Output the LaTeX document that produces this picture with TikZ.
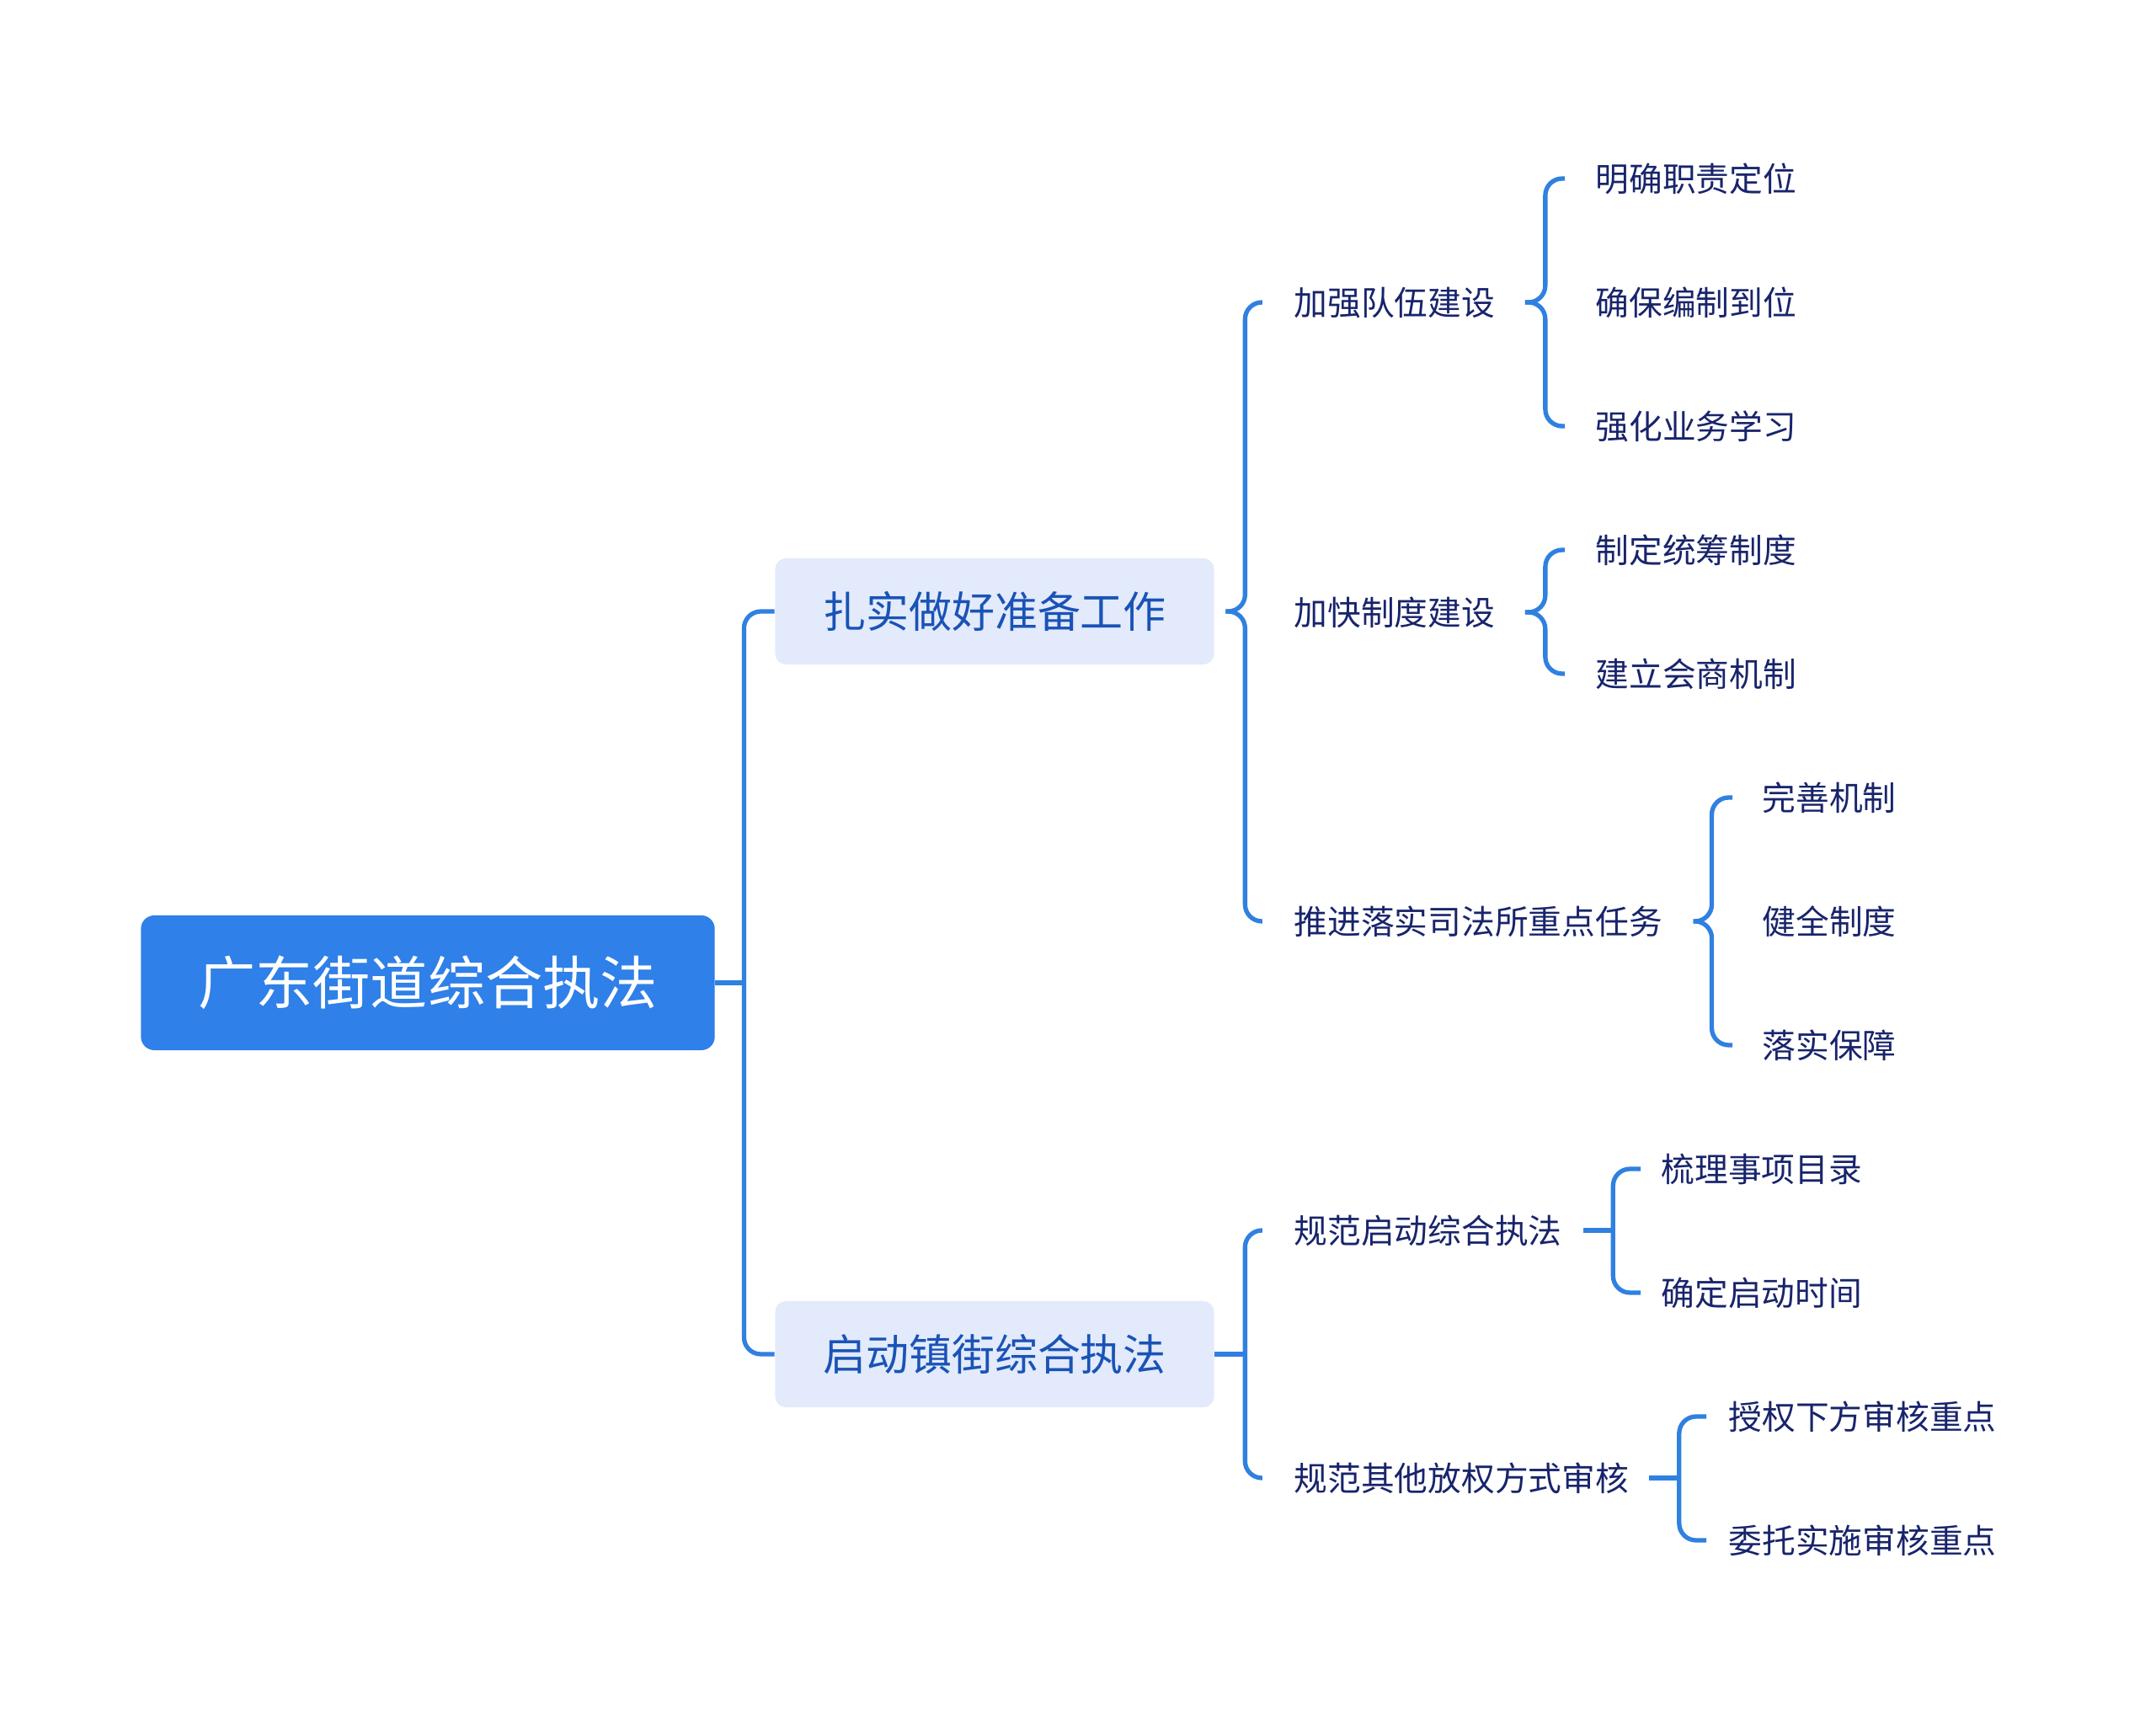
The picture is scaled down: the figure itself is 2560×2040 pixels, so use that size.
\documentclass[tikz,border=0pt]{standalone}
\usepackage{fontspec}
\setmainfont{Noto Sans CJK SC}
\usepackage{tikz}

\definecolor{linkblue}{HTML}{3080E0}
\definecolor{rootblue}{HTML}{2F80E8}
\definecolor{topicbg}{HTML}{E2EAFB}
\definecolor{topicfg}{HTML}{1A53B6}
\definecolor{leaffg}{HTML}{18246B}

\begin{document}
\begin{tikzpicture}[x=0.01cm, y=-0.01cm,
  root/.style={fill=rootblue, rounded corners=0.16cm, minimum width=6.81cm, minimum height=1.6cm, inner sep=0pt, text=white, font=\fontsize{19.4}{22}\selectfont, text height=16.1pt, text depth=1.4pt},
  topic/.style={fill=topicbg, rounded corners=0.13cm, minimum width=5.21cm, minimum height=1.26cm, inner sep=0pt, text=topicfg, font=\fontsize{14.5}{17}\selectfont, text height=12pt, text depth=1pt},
  leaf/.style={anchor=west, inner sep=0pt, text=leaffg, font=\fontsize{11.3}{13}\selectfont, text height=9.4pt, text depth=0.8pt},
  link/.style={draw=linkblue, line width=1.5pt, rounded corners=0.2cm}]
  \useasboundingbox (0,0) rectangle (2560,2040);

  \node[root]  (main)   at (508,1167) {广东街道综合执法};
  \node[topic] (prep)   at (1181,726) {扎实做好准备工作};
  \node[topic] (launch) at (1181,1608) {启动镇街综合执法};

  \node[leaf] (team)  at (1536,359)  {加强队伍建设};
  \node[leaf] (rules) at (1536,727)  {加快制度建设};
  \node[leaf] (tasks) at (1536,1094) {推进落实司法所重点任务};
  \node[leaf] (start) at (1536,1461) {规范启动综合执法};
  \node[leaf] (other) at (1536,1755) {规范其他放权方式审核};

  \node[leaf] (duty)    at (1894,212)  {明确职责定位};
  \node[leaf] (staff)   at (1894,359)  {确保编制到位};
  \node[leaf] (study)   at (1894,506)  {强化业务学习};
  \node[leaf] (plan)    at (1894,653)  {制定统筹制度};
  \node[leaf] (consult) at (1894,800)  {建立会商机制};
  \node[leaf] (mech)    at (2092,947)  {完善机制};
  \node[leaf] (sys)     at (2092,1094) {健全制度};
  \node[leaf] (guard)   at (2092,1241) {落实保障};
  \node[leaf] (list)    at (1972,1388) {梳理事项目录};
  \node[leaf] (time)    at (1972,1535) {确定启动时间};
  \node[leaf] (auth)    at (2052,1682) {授权下方审核重点};
  \node[leaf] (entrust) at (2052,1829) {委托实施审核重点};

  % root -> topics
  \draw[link] (main.east) -- ++(34,0) coordinate (mainfork);
  \draw[link] (mainfork) |- (prep.west);
  \draw[link] (mainfork) |- (launch.west);

  % braces
  \coordinate (prepfork) at ([xshift=0.13cm]prep.east);
  \draw[link] (prepfork) -- ++(23,0) |- ([xshift=-0.37cm]team.west);
  \draw[link] (prepfork) -- ++(23,0) |- ([xshift=-0.37cm]tasks.west);

  \coordinate (teamfork) at ([xshift=0.35cm]team.east);
  \draw[link] (teamfork) -- ++(24,0) |- ([xshift=-0.36cm]duty.west);
  \draw[link] (teamfork) -- ++(24,0) |- ([xshift=-0.36cm]study.west);

  \coordinate (rulesfork) at ([xshift=0.35cm]rules.east);
  \draw[link] (rulesfork) -- ++(24,0) |- ([xshift=-0.36cm]plan.west);
  \draw[link] (rulesfork) -- ++(24,0) |- ([xshift=-0.36cm]consult.west);

  \coordinate (tasksfork) at ([xshift=0.36cm]tasks.east);
  \draw[link] (tasksfork) -- ++(22,0) |- ([xshift=-0.35cm]mech.west);
  \draw[link] (tasksfork) -- ++(22,0) |- ([xshift=-0.35cm]guard.west);

  % stubs
  \draw[link] (launch.east) -- ++(36,0) coordinate (launchfork);
  \draw[link] (launchfork) |- ([xshift=-0.37cm]start.west);
  \draw[link] (launchfork) |- ([xshift=-0.37cm]other.west);

  \draw[link] ([xshift=0.25cm]start.east) -- ++(35,0) coordinate (startfork);
  \draw[link] (startfork) |- ([xshift=-0.24cm]list.west);
  \draw[link] (startfork) |- ([xshift=-0.24cm]time.west);

  \draw[link] ([xshift=0.23cm]other.east) -- ++(36,0) coordinate (otherfork);
  \draw[link] (otherfork) |- ([xshift=-0.26cm]auth.west);
  \draw[link] (otherfork) |- ([xshift=-0.26cm]entrust.west);
\end{tikzpicture}
\end{document}
